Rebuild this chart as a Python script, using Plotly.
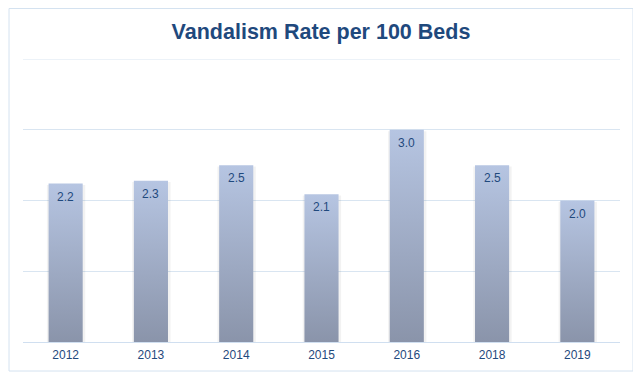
import plotly.graph_objects as go

years = ["2012", "2013", "2014", "2015", "2016", "2018", "2019"]
rates = [2.24, 2.28, 2.5, 2.09, 3.0, 2.5, 2.0]
labels = ["2.2", "2.3", "2.5", "2.1", "3.0", "2.5", "2.0"]
y_max = 4

BAR_HALF = 0.2
TOP_COL = "#b6c5e2"
BOT_COL = "#8a94aa"
TEXT_COL = "#1f497d"
GRID_COL = "#d9e5f1"
FONT = "Liberation Sans, Arial, sans-serif"

fig = go.Figure()

for i, v in enumerate(rates):
    # soft shadow
    fig.add_trace(go.Scatter(
        x=[i - BAR_HALF - 0.02, i + BAR_HALF + 0.03, i + BAR_HALF + 0.03, i - BAR_HALF - 0.02, i - BAR_HALF - 0.02],
        y=[0, 0, v - 0.02, v - 0.02, 0],
        fill="toself", fillcolor="rgba(0,0,0,0.05)", mode="none",
        hoverinfo="skip", showlegend=False))
    fig.add_trace(go.Scatter(
        x=[i - BAR_HALF, i + BAR_HALF, i + BAR_HALF, i - BAR_HALF, i - BAR_HALF],
        y=[0, 0, v, v, 0],
        fill="toself", mode="none",
        fillgradient=dict(type="vertical", colorscale=[[0, BOT_COL], [1, TOP_COL]]),
        hoverinfo="skip", showlegend=False, name=years[i]))

annotations = [
    dict(x=i, y=v, text=labels[i], showarrow=False, yanchor="middle", yshift=-13,
         font=dict(family=FONT, size=12, color=TEXT_COL))
    for i, v in enumerate(rates)
]

W, H = 633, 371
ML, MR, MT, MB = 15, 21, 51, 37
PW, PH = W - ML - MR, H - MT - MB

fig.update_layout(
    width=W, height=H,
    margin=dict(l=ML, r=MR, t=MT, b=MB),
    paper_bgcolor="white", plot_bgcolor="white",
    title=dict(text="<b>Vandalism Rate per 100 Beds</b>", x=313 / W, xanchor="center",
               y=1 - 23 / H, yanchor="middle",
               font=dict(family=FONT, size=21.5, color=TEXT_COL)),
    xaxis=dict(range=[-0.5, len(years) - 0.5], tickmode="array",
               tickvals=list(range(len(years))), ticktext=years,
               showgrid=False, zeroline=False, showline=False, ticks="",
               ticklabelstandoff=4,
               tickfont=dict(family=FONT, size=12, color=TEXT_COL),
               fixedrange=True),
    yaxis=dict(range=[0, y_max], tickvals=[1, 2, 3, 4], showticklabels=False, showgrid=True,
               gridcolor=GRID_COL, gridwidth=1, zeroline=True, zerolinecolor="#d0dff0",
               zerolinewidth=1, ticks="", fixedrange=True),
    annotations=annotations,
    shapes=[
        dict(type="line", xref="paper", yref="y", x0=0, x1=1, y0=y_max, y1=y_max,
             line=dict(color=GRID_COL, width=1), layer="below"),
        dict(type="rect", xref="paper", yref="paper",
             x0=-14 / PW, x1=1 + 13 / PW, y0=-29 / PH, y1=1 + 50.5 / PH,
             line=dict(color="#d4e2f0", width=1), fillcolor="rgba(0,0,0,0)", layer="below"),
    ],
)

fig.write_html("out.html")
